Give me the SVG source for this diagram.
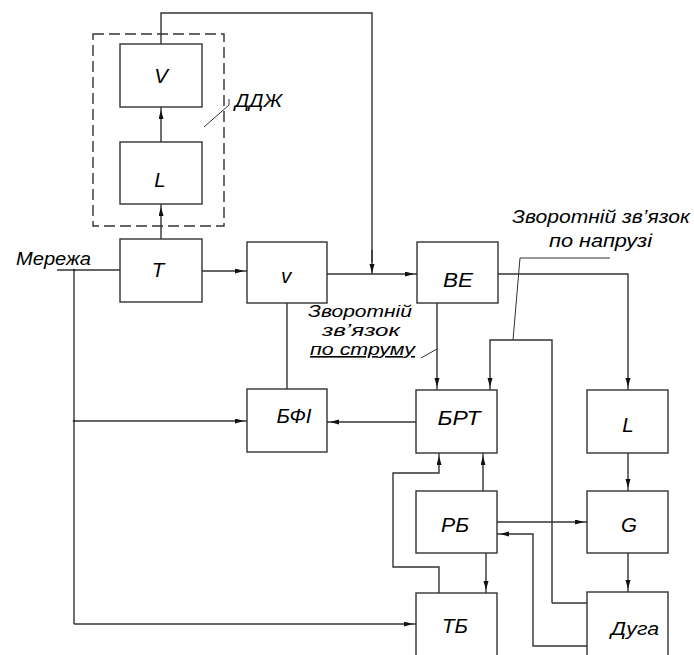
<svg xmlns="http://www.w3.org/2000/svg" width="694" height="655" viewBox="0 0 694 655">
<defs>
<style>
.box{fill:#fff;stroke:#333;stroke-width:1.4}
.ln{fill:none;stroke:#333;stroke-width:1.4}
.ar{fill:none;stroke:#333;stroke-width:1.4;marker-end:url(#ah)}
.aj{fill:none;stroke:#333;stroke-width:1.4;marker-end:url(#ahj)}
.dash{fill:none;stroke:#333;stroke-width:1.4;stroke-dasharray:11 5}
.lead{fill:none;stroke:#333;stroke-width:1}
text{font-family:"Liberation Sans",Arial,sans-serif;font-style:italic;fill:#000}
.lb{font-size:20.5px;text-anchor:middle}
.nt{font-size:18.5px}
.cf{font-size:16px}
</style>
<marker id="ah" markerUnits="userSpaceOnUse" markerWidth="14" markerHeight="6" refX="12" refY="2.5" orient="auto">
<path d="M0,0 L9,2.5 L0,5 z" fill="#111"/>
</marker>
<marker id="ahj" markerUnits="userSpaceOnUse" markerWidth="14" markerHeight="6" refX="10" refY="2.5" orient="auto">
<path d="M0,0 L9,2.5 L0,5 z" fill="#111"/>
</marker>
</defs>

<g id="connectors">
<path class="ln" d="M161,44 V13 H372 V262"/>
<path class="aj" d="M372,250 V274"/>
<path class="ar" d="M161,142 V107"/>
<path class="ar" d="M161,239 V204"/>
<path class="ln" d="M57,270 H120"/>
<path class="ar" d="M202,271 H247"/>
<path class="ar" d="M327,274 H417"/>
<path class="ln" d="M74,270 V624"/>
<path class="ar" d="M74,421 H247"/>
<path class="ar" d="M74,624 H416"/>
<path class="ln" d="M287,303 V389"/>
<path class="ar" d="M416,422 H327"/>
<path class="ar" d="M437,303 V390"/>
<path class="ar" d="M498,274 H628 V390"/>
<path class="ar" d="M552,603 V340 H490 V390"/>
<path class="ln" d="M552,603 H587"/>
<path class="ar" d="M628,453 V491"/>
<path class="ar" d="M628,553 V592"/>
<path class="ar" d="M497,522 H587"/>
<path class="ar" d="M587,646 H533 V534 H497"/>
<path class="ar" d="M483,491 V453"/>
<path class="ar" d="M486,553 V593"/>
<path class="ar" d="M439,593 V567 H393 V473 H439 V453"/>
<circle cx="74" cy="270" r="1.3" fill="#333"/>
<circle cx="74" cy="421" r="1.3" fill="#333"/>
</g>

<g id="ddzh">
<rect class="dash" x="93" y="34" width="131" height="192"/>
<path class="lead" d="M204,127 L229,105 V99"/>
<text class="nt" x="235" y="107" font-size="20" textLength="47" lengthAdjust="spacingAndGlyphs">ДДЖ</text>
</g>

<g id="node-V-top"><rect class="box" x="120" y="44" width="82" height="63"/><text class="lb" x="161" y="83">V</text></g>
<g id="node-L-top"><rect class="box" x="120" y="142" width="82" height="62"/><text class="lb" x="160" y="187">L</text></g>
<g id="node-T"><rect class="box" x="120" y="239" width="82" height="63"/><text class="lb" x="158" y="277">T</text></g>
<g id="node-v"><rect class="box" x="247" y="242" width="80" height="61"/><text class="lb" x="286" y="283">v</text></g>
<g id="node-BE"><rect class="box" x="417" y="242" width="81" height="61"/><text class="lb" x="458" y="287" textLength="30" lengthAdjust="spacingAndGlyphs">ВЕ</text></g>
<g id="node-BFI"><rect class="box" x="247" y="389" width="80" height="63"/><text class="lb" x="294" y="423" textLength="35" lengthAdjust="spacingAndGlyphs">БФІ</text></g>
<g id="node-BRT"><rect class="box" x="416" y="390" width="81" height="63"/><text class="lb" x="459" y="425" textLength="43" lengthAdjust="spacingAndGlyphs">БРТ</text></g>
<g id="node-L"><rect class="box" x="587" y="390" width="81" height="63"/><text class="lb" x="628" y="432">L</text></g>
<g id="node-RB"><rect class="box" x="416" y="491" width="81" height="62"/><text class="lb" x="455" y="532" textLength="28" lengthAdjust="spacingAndGlyphs">РБ</text></g>
<g id="node-G"><rect class="box" x="587" y="491" width="81" height="62"/><text class="lb" x="629" y="532">G</text></g>
<g id="node-TB"><rect class="box" x="416" y="593" width="81" height="70"/><text class="lb" x="455" y="633" textLength="26" lengthAdjust="spacingAndGlyphs">ТБ</text></g>
<g id="node-Duga"><rect class="box" x="587" y="592" width="81" height="71"/><text class="nt" x="611" y="635" font-size="20" textLength="48" lengthAdjust="spacingAndGlyphs">Дуга</text></g>

<g id="label-merezha"><text class="nt" x="16" y="265" textLength="75" lengthAdjust="spacingAndGlyphs">Мережа</text></g>

<g id="label-current-fb">
<text class="cf" x="308" y="317" textLength="104" lengthAdjust="spacingAndGlyphs">Зворотній</text>
<text class="cf" x="322" y="336" textLength="78" lengthAdjust="spacingAndGlyphs">зв’язок</text>
<text class="cf" x="310" y="355" textLength="105" lengthAdjust="spacingAndGlyphs" text-decoration="underline">по струму</text>
<path class="lead" d="M421,358 L437,349"/>
</g>

<g id="label-voltage-fb">
<text class="nt" x="512" y="223" textLength="178" lengthAdjust="spacingAndGlyphs">Зворотній зв’язок</text>
<text class="nt" x="549" y="247" textLength="103" lengthAdjust="spacingAndGlyphs">по напрузі</text>
<path class="lead" d="M513,340 L520,258 H610"/>
</g>
</svg>
